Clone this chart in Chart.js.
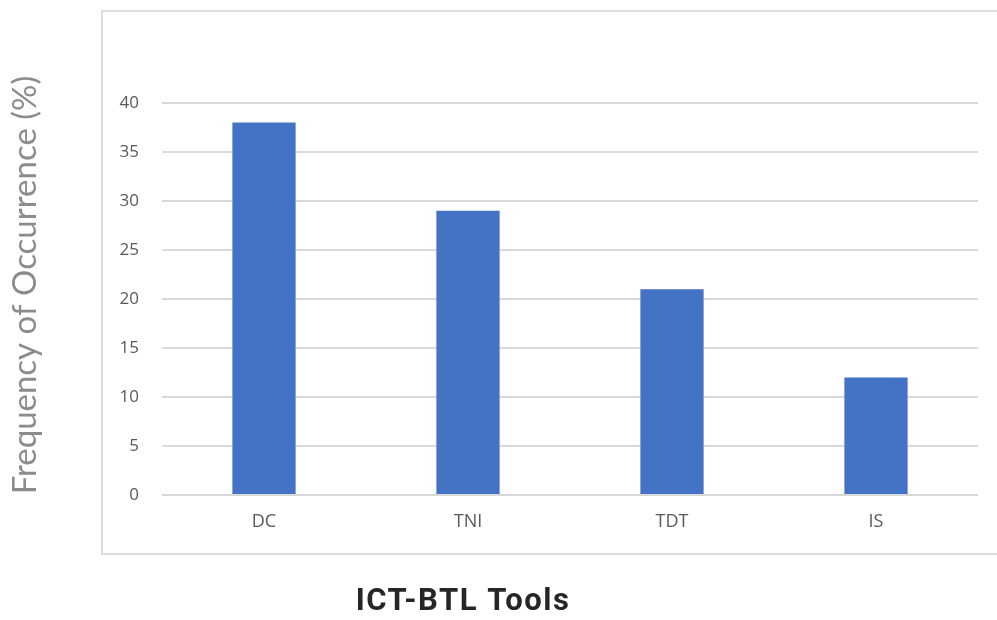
<!DOCTYPE html>
<html>
<head>
<meta charset="utf-8">
<script src="https://cdn.jsdelivr.net/npm/chart.js@4"></script>
<style>
  body { margin: 0; background: #fff; }
  #wrap { position: relative; width: 997px; height: 620px; }
  #box { position: absolute; left: 101px; top: 10px; width: 910px; height: 541px; border: 2px solid #dcdcdc; }
  canvas { position: absolute; left: 0; top: 0; }
</style>
</head>
<body>
<div id="wrap">
  <div id="box"></div>
  <canvas id="myChart" width="997" height="620"></canvas>
</div>
<script>
const categories = ["DC", "TNI", "TDT", "IS"];
const frequency = [38, 29, 21, 12];
const yTicks = [0, 5, 10, 15, 20, 25, 30, 35, 40];
const xLabel = "ICT-BTL Tools";
const yLabel = "Frequency of Occurrence (%)";

// axis titles sit outside the plot frame, so draw them ourselves
const axisTitles = {
  id: "axisTitles",
  afterDraw(chart) {
    const ctx = chart.ctx;
    ctx.save();
    ctx.textAlign = "center";
    ctx.textBaseline = "middle";

    ctx.font = "bold 31px Roboto";
    ctx.letterSpacing = "1.5px";
    ctx.fillStyle = "#262626";
    ctx.fillText(xLabel, 463, 602);

    ctx.letterSpacing = "0px";
    ctx.font = "33px Lato";
    ctx.fillStyle = "#8c8c8c";
    ctx.translate(25, 285);
    ctx.rotate(-Math.PI / 2);
    ctx.fillText(yLabel, 0, 0);
    ctx.restore();
  }
};

new Chart(document.getElementById("myChart"), {
  type: "bar",
  data: {
    labels: categories,
    datasets: [{
      label: yLabel,
      data: frequency,
      backgroundColor: "#4472c4",
      barPercentage: 0.62,
      categoryPercentage: 0.5
    }]
  },
  options: {
    responsive: false,
    animation: false,
    layout: { padding: { top: 103, right: 19, left: 0, bottom: 0 } },
    plugins: { legend: { display: false }, tooltip: { enabled: false } },
    scales: {
      x: {
        grid: { display: false, drawTicks: false },
        border: { display: false },
        ticks: { color: "#595959", font: { family: "Open Sans", size: 18 }, padding: 16 },
        afterFit(scale) { scale.height = 125; }
      },
      y: {
        min: 0,
        max: 40,
        afterBuildTicks(scale) { scale.ticks = yTicks.map(v => ({ value: v })); },
        grid: { color: "#d9d9d9", lineWidth: 2, drawTicks: false },
        border: { display: false },
        ticks: { color: "#595959", font: { family: "Open Sans", size: 17 }, padding: 23 },
        afterFit(scale) { scale.width = 162; }
      }
    }
  },
  plugins: [axisTitles]
});
</script>
</body>
</html>
